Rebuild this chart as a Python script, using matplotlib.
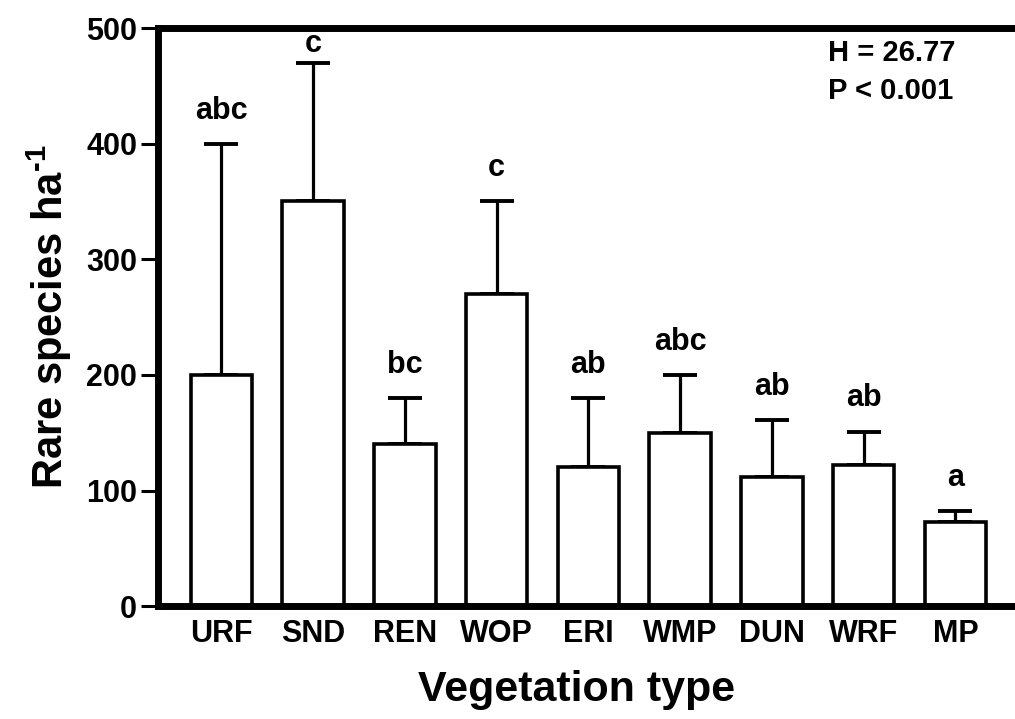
import matplotlib
matplotlib.use("Agg")
import matplotlib.pyplot as plt
import numpy as np

categories = ["URF", "SND", "REN", "WOP", "ERI", "WMP", "DUN", "WRF", "MP"]
means = [200, 350, 140, 270, 120, 150, 112, 122, 73]
upper = [400, 470, 180, 350, 180, 200, 161, 151, 82]
letters = ["abc", "c", "bc", "c", "ab", "abc", "ab", "ab", "a"]
yticks = [0, 100, 200, 300, 400, 500]

plt.rcParams['font.family'] = ['Liberation Sans', 'DejaVu Sans']
plt.rcParams['font.weight'] = 'bold'
plt.rcParams['mathtext.fontset'] = 'custom'
plt.rcParams['mathtext.rm'] = 'Liberation Sans:bold'
plt.rcParams['mathtext.bf'] = 'Liberation Sans:bold'
plt.rcParams['mathtext.default'] = 'rm'

fig = plt.figure(figsize=(10.15, 7.19), dpi=100)
ax = fig.add_axes([0.1557, 0.157, 0.8443, 0.804])

x = np.arange(len(categories))
err = np.array(upper) - np.array(means)
ax.bar(x, means, width=0.67, color='white', edgecolor='black', linewidth=2.6, zorder=2)
ax.errorbar(x, means, yerr=[np.zeros_like(err), err], fmt='none', ecolor='black',
            elinewidth=2.3, capsize=12.5, capthick=2.8, zorder=1)

ymax = yticks[-1]
for xi, top, lab in zip(x, upper, letters):
    off = 13 if top < ymax - 50 else 3
    ax.annotate(lab, (xi, top), xytext=(0, off),
                textcoords='offset points', ha='center', va='bottom',
                fontsize=22, fontweight='bold')

ax.set_xlim(-0.69, 8.65)
ax.set_ylim(0, ymax)
ax.set_yticks(yticks)
ax.set_xticks(x)
ax.set_xticklabels(categories)
ax.tick_params(axis='y', length=12, width=2.2, labelsize=22, pad=3)
ax.tick_params(axis='x', length=0, labelsize=22, pad=9)
for lab in ax.get_xticklabels() + ax.get_yticklabels():
    lab.set_fontweight('bold')

for s in ['left', 'bottom', 'top']:
    ax.spines[s].set_linewidth(5)
ax.spines['right'].set_visible(False)

ax.set_ylabel(r"Rare species ha$^{\text{-1}}$", fontsize=30, fontweight='bold', labelpad=9)
fig.text(0.568, 0.04, "Vegetation type", ha='center', va='center', fontsize=31, fontweight='bold')

ax.text(0.816, 0.9, "H = 26.77\nP < 0.001", transform=fig.transFigure, ha='left', va='center',
        fontsize=21, fontweight='bold', linespacing=1.45)

fig.savefig("out.png", dpi=100)
